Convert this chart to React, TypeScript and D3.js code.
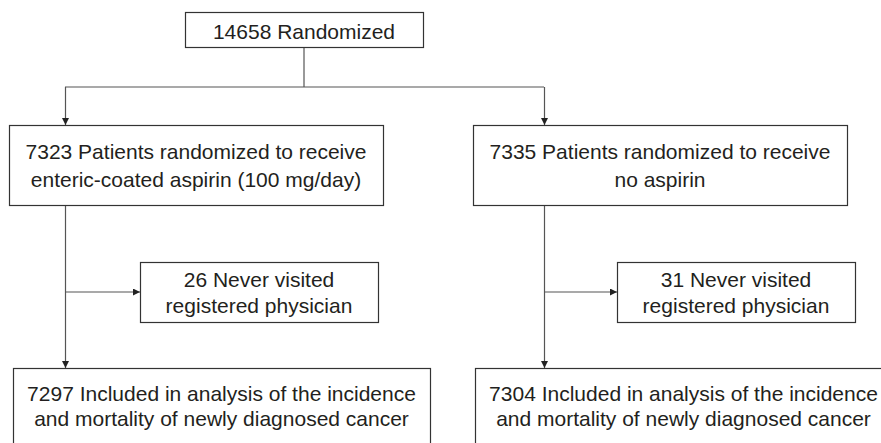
import React, { useRef, useEffect } from 'react';
import * as d3 from 'd3';

// flow numbers and labels
const totalRandomized = 14658;
const totalLabel = 'Randomized';
const armCounts = [7323, 7335];
const armLabels = [
  ['Patients randomized to receive', 'enteric-coated aspirin (100 mg/day)'],
  ['Patients randomized to receive', 'no aspirin'],
];
const excludedCounts = [26, 31];
const excludedLabels = ['Never visited', 'registered physician'];
const analyzedCounts = [7297, 7304];
const analyzedLabels = ['Included in analysis of the incidence', 'and mortality of newly diagnosed cancer'];

const W = 881;
const H = 443;

function App() {
  const svgRef = useRef<SVGSVGElement>(null);

  useEffect(() => {
    const svg = d3.select(svgRef.current);
    svg.selectAll('*').remove();

    const arms = d3.range(armCounts.length);
    // column layout per arm
    const armBoxX = d3.scaleOrdinal<number, number>().domain(arms).range([9, 473]);
    const spineX = d3.scaleOrdinal<number, number>().domain(arms).range([65, 544]);
    const exclBoxX = d3.scaleOrdinal<number, number>().domain(arms).range([140, 617]);
    const analysisBoxX = d3.scaleOrdinal<number, number>().domain(arms).range([13, 475]);

    const font = 'Liberation Sans, Arial, Helvetica, sans-serif';
    const boxStroke = '#333';
    const lineStroke = '#555';
    const textFill = '#231f20';

    const defs = svg.append('defs');
    defs.append('marker')
      .attr('id', 'arrow')
      .attr('viewBox', '0 0 10 10')
      .attr('refX', 10)
      .attr('refY', 5)
      .attr('markerWidth', 7)
      .attr('markerHeight', 7)
      .attr('markerUnits', 'userSpaceOnUse')
      .attr('orient', 'auto')
      .append('path')
      .attr('d', 'M0,0L10,5L0,10Z')
      .attr('fill', '#222');

    const box = (x: number, y: number, w: number, h: number) =>
      svg.append('rect')
        .attr('x', x + 0.5).attr('y', y + 0.5)
        .attr('width', w).attr('height', h)
        .attr('fill', '#fff')
        .attr('stroke', boxStroke)
        .attr('stroke-width', 1.2);

    const label = (cx: number, lines: string[], y0: number, dy: number) =>
      lines.forEach((t, i) => {
        svg.append('text')
          .attr('x', cx).attr('y', y0 + i * dy)
          .attr('text-anchor', 'middle')
          .attr('font-family', font)
          .attr('font-size', 21)
          .attr('fill', textFill)
          .text(t);
      });

    const link = (pts: [number, number][], arrow: boolean) =>
      svg.append('path')
        .attr('d', d3.line()(pts))
        .attr('fill', 'none')
        .attr('stroke', lineStroke)
        .attr('stroke-width', 1.2)
        .attr('marker-end', arrow ? 'url(#arrow)' : null);

    // top box
    const topX = 185, topW = 238, topY = 12, topH = 35;
    link([[topX + topW / 2, topY + topH], [topX + topW / 2, 87]], false);
    link([[spineX(0), 87], [spineX(1), 87]], false);
    box(topX, topY, topW, topH);
    label(topX + topW / 2, [`${totalRandomized} ${totalLabel}`], 38.5, 0);

    arms.forEach((a) => {
      const sx = spineX(a) + 0.5;
      // connectors
      link([[sx, 87], [sx, 125]], true);
      link([[sx, 205], [sx, 368]], true);
      link([[sx, 292], [exclBoxX(a), 292]], true);

      // arm box
      const aw = 374;
      box(armBoxX(a), 125, aw, 80);
      const armLines = [`${armCounts[a]} ${armLabels[a][0]}`, ...armLabels[a].slice(1)];
      label(armBoxX(a) + aw / 2, armLines, 158.5, 28.5);

      // excluded box
      const ew = 238;
      box(exclBoxX(a), 262, ew, 60);
      label(exclBoxX(a) + ew / 2, [`${excludedCounts[a]} ${excludedLabels[0]}`, excludedLabels[1]], 286.5, 26);

      // analysis box (runs off the bottom)
      const nw = 417;
      box(analysisBoxX(a), 368, nw, 100);
      label(analysisBoxX(a) + nw / 2, [`${analyzedCounts[a]} ${analyzedLabels[0]}`, analyzedLabels[1]], 400.5, 25.5);
    });
  }, []);

  return (
    <svg
      ref={svgRef}
      width={W}
      height={H}
      style={{ position: 'absolute', left: 0, top: 0, background: '#fff' }}
    />
  );
}

export default App;
